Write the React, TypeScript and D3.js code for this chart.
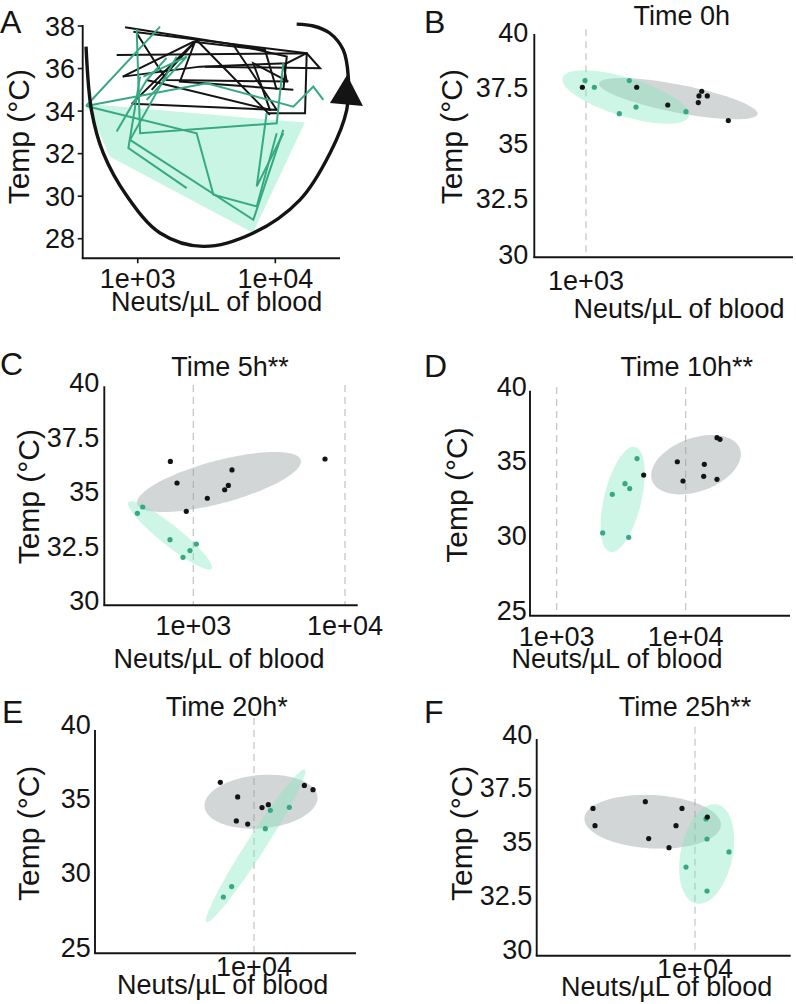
import React from 'react';
import * as d3 from 'd3';

type Pt = [number, number];
type Ell = { cx: number; cy: number; ax: number; ay: number; bx: number; by: number };

// ---------- data (neutrophils / µL, temperature °C) ----------
const xTickLabelsA = ['1e+03', '1e+04'];
const xTickValuesA = [1e3, 1e4];
const yTicksA = [28, 30, 32, 34, 36, 38];
const yTicksFine = [30, 32.5, 35, 37.5, 40];
const yTicksCoarse = [25, 30, 35, 40];

// Panel A trajectories
const darkTrajectories: Pt[][] = [
  [[809, 37.94], [5236, 37.11], [12106, 36.56], [11429, 35.0]],
  [[929, 37.73], [16904, 36.72], [21135, 36.01], [3083, 36.09]],
  [[703, 36.64], [16904, 36.72], [16444, 33.9], [8650, 33.9]],
  [[778, 35.62], [2535, 37.26], [8414, 36.87], [10233, 35.0]],
  [[904, 34.34], [2679, 37.34], [9141, 33.82]],
  [[1262, 35.0], [2606, 37.26], [2028, 35.39], [13521, 35.0]],
  [[982, 37.66], [1622, 35.46], [12106, 35.39], [11429, 36.25]],
  [[1161, 35.46], [9141, 34.06], [6918, 36.25], [12445, 35.39]],
  [[904, 34.34], [10233, 34.06], [4955, 37.11], [8414, 36.87]],
  [[778, 35.62], [2838, 36.09], [12106, 36.25], [16904, 36.72]],
];
const tealTrajectories: Pt[][] = [
  [[421, 34.24], [1452, 37.97]],
  [[421, 34.24], [3170, 35.31], [13521, 34.21], [18880, 35.15], [22336, 34.53]],
  [[982, 37.86], [1040, 32.96], [10233, 33.43], [11429, 36.25]],
  [[421, 34.24], [2679, 32.96], [3548, 30.07], [7328, 29.52], [10233, 32.96]],
  [[1040, 35.62], [855, 32.26], [2270, 30.38]],
  [[1919, 36.56], [879, 32.65], [6918, 28.89], [11429, 33.12]],
  [[8650, 33.9], [7328, 30.46], [11429, 32.96]],
  [[1099, 35.62], [2270, 36.56], [1161, 34.53]],
  [[703, 33.04], [1161, 35.46], [1622, 36.5]],
];
const tealHull: Pt[] = [[422, 34.34], [16400, 33.46], [6870, 28.28], [630, 31.85]];
const loopArrow: Pt[] = [
  [421, 37.03], [462, 34.01], [562, 32.02], [832, 30.02], [1452, 28.27], [2992, 27.64],
  [6918, 28.27], [15101, 29.83], [24946, 32.02], [33037, 34.06], [33884, 35.62],
  [31189, 36.87], [24946, 37.66], [18880, 38.0], [14289, 38.09],
];
const arrowHead: Pt[] = [[24946, 34.385], [43351, 34.244], [33189, 35.7]];

// Panel B: time 0h
const darkB: Pt[] = [[967, 37.65], [1595, 37.65], [2123, 36.85], [2813, 36.96], [2831, 37.26], [2903, 37.47], [3056, 37.26], [3709, 36.15]];
const tealB: Pt[] = [[991, 37.95], [1080, 37.65], [1490, 37.95], [1359, 36.46], [1585, 36.76], [2512, 36.55]];
const ellDarkB: Ell = { cx: 2340, cy: 37.136, ax: 0.3168, ay: -0.693, bx: -0.0107, by: -0.618 };
const ellTealB: Ell = { cx: 1441, cy: 37.211, ax: 0.2524, ay: -0.868, bx: -0.0226, by: -0.83 };

// Panel C: time 5h
const darkC: Pt[] = [[706, 36.6], [781, 35.61], [899, 34.31], [1237, 34.91], [1610, 35.3], [1702, 35.5], [1799, 36.21], [7382, 36.71]];
const tealC: Pt[] = [[428, 34.22], [464, 34.51], [702, 33.01], [855, 32.2], [951, 32.51], [1047, 32.81]];
const ellDarkC: Ell = { cx: 1477, cy: 35.656, ax: 0.539, ay: 1.005, bx: 0.0363, by: -0.944 };
const ellTealC: Ell = { cx: 702, cy: 33.21, ax: 0.274, ay: -1.528, bx: -0.0412, by: -0.358 };

// Panel D: time 10h
const darkD: Pt[] = [[4723, 34.42], [8611, 35.31], [9530, 34.02], [13946, 35.14], [13784, 34.33], [17480, 34.13], [17480, 36.92], [18447, 36.81]];
const tealD: Pt[] = [[2272, 30.54], [2699, 33.13], [3384, 33.84], [3679, 33.51], [4193, 35.52], [3614, 30.25]];
const ellDarkD: Ell = { cx: 12020, cy: 35.11, ax: 0.34, ay: 1.069, bx: 0.0707, by: -1.678 };
const ellTealD: Ell = { cx: 3247, cy: 32.79, ax: 0.097, ay: 3.518, bx: 0.1408, by: -0.29 };

// Panel E: time 20h
const darkE: Pt[] = [[6786, 36.54], [8286, 35.55], [8159, 33.93], [9298, 33.72], [10965, 34.83], [11795, 35.03], [17852, 36.33], [19724, 36.04]];
const tealE: Pt[] = [[12068, 34.65], [15019, 34.85], [11394, 33.41], [7733, 29.5], [7026, 28.8]];
const ellDarkE: Ell = { cx: 10839, cy: 35.23, ax: 0.2823, ay: 0.3333, bx: 0.01165, by: -1.793 };
const ellTealE: Ell = { cx: 10193, cy: 32.26, ax: 0.2456, ay: 5.143, bx: 0.0392, by: -0.341 };

// Panel F: time 25h
const darkF: Pt[] = [[3090, 36.83], [3162, 36.03], [5645, 37.14], [5867, 35.43], [7413, 35.01], [8035, 36.03], [8610, 36.83], [11525, 36.43]];
const tealF: Pt[] = [[11350, 36.34], [11482, 35.41], [14791, 34.81], [9016, 34.11], [11482, 33.0]];
const ellDarkF: Ell = { cx: 6143, cy: 36.21, ax: 0.3412, ay: -0.166, bx: -0.00697, by: -1.235 };
const ellTealF: Ell = { cx: 11437, cy: 34.715, ax: 0.0527, ay: 2.298, bx: 0.127, by: -0.251 };

// ---------- styles ----------
const FONT = "'Liberation Sans', Arial, Helvetica, sans-serif";
const INK = '#141414';
const TEAL = '#36a982';
const TEAL_FILL = '#7de8be';
const GRAY_FILL = '#8f9999';
const FS = 27;

type Layout = {
  letter: string; letterX: number; letterY: number;
  title: string; titleX: number; titleY: number;
  xRange: [number, number]; xLog: [number, number];
  yRange: [number, number]; yDomain: [number, number];
  yTicks: number[]; yLabelRight: number; yLabelShift: number;
  xTicks: number[]; xTickLabels: string[]; xLabelY: number;
  dashTop: number;
  xTitleX: number; xTitleY: number; yTitleX: number; yTitleY: number;
};

function Texts({ L }: { L: Layout }) {
  return (
    <g fontFamily={FONT} fill={INK}>
      <text x={L.letterX} y={L.letterY} fontSize={32}>{L.letter}</text>
      {L.title && <text x={L.titleX} y={L.titleY + 9.5} fontSize={FS} textAnchor="middle">{L.title}</text>}
      <text x={L.xTitleX} y={L.xTitleY + 8} fontSize={FS} textAnchor="middle">Neuts/µL of blood</text>
      <text transform={`translate(${L.yTitleX},${L.yTitleY}) rotate(-90)`} y={10.5} fontSize={30} textAnchor="middle">Temp (°C)</text>
    </g>
  );
}

function ellipsePath(e: Ell, xs: any, ys: any) {
  const pts: Pt[] = d3.range(0, 121).map((i) => {
    const t = (i / 120) * 2 * Math.PI;
    const lx = Math.log10(e.cx) + e.ax * Math.cos(t) + e.bx * Math.sin(t);
    const ty = e.cy + e.ay * Math.cos(t) + e.by * Math.sin(t);
    return [xs(Math.pow(10, lx)), ys(ty)];
  });
  return (d3.line()(pts) as string) + 'Z';
}

function Axes({ L, xs, ys, tickMarks }: { L: Layout; xs: any; ys: any; tickMarks?: boolean }) {
  const [x0, x1] = L.xRange;
  const [yb, yt] = L.yRange;
  return (
    <g>
      <line x1={x0} x2={x0} y1={yt - 1} y2={yb} stroke={INK} strokeWidth={1.9} />
      <line x1={x0 - 0.95} x2={x1} y1={yb} y2={yb} stroke={INK} strokeWidth={1.9} />
      {tickMarks && L.yTicks.map((t) => (
        <line key={'yt' + t} x1={x0 - 5} x2={x0} y1={ys(t)} y2={ys(t)} stroke={INK} strokeWidth={1.6} />
      ))}
      {tickMarks && L.xTicks.map((t) => (
        <line key={'xt' + t} x1={xs(t)} x2={xs(t)} y1={yb} y2={yb + 5} stroke={INK} strokeWidth={1.6} />
      ))}
      <g fontFamily={FONT} fill={INK} fontSize={FS}>
        {L.yTicks.map((t) => (
          <text key={'yl' + t} x={L.yLabelRight} y={ys(t) + L.yLabelShift + 9.5} textAnchor="end">{String(t)}</text>
        ))}
        {L.xTicks.map((t, i) => (
          <text key={'xl' + t} x={xs(t)} y={L.xLabelY + 9.5} textAnchor="middle">{L.xTickLabels[i]}</text>
        ))}
      </g>
    </g>
  );
}

function ScatterPanel({ L, dark, teal, ellDark, ellTeal }: { L: Layout; dark: Pt[]; teal: Pt[]; ellDark: Ell; ellTeal: Ell }) {
  const xs = d3.scaleLog().domain([Math.pow(10, L.xLog[0]), Math.pow(10, L.xLog[1])]).range(L.xRange);
  const ys = d3.scaleLinear().domain(L.yDomain).range(L.yRange);
  return (
    <g>
      {L.xTicks.map((t) => (
        <line key={'d' + t} x1={xs(t)} x2={xs(t)} y1={L.dashTop} y2={L.yRange[0]} stroke="#bdbdbd" strokeWidth={1.1} strokeDasharray="7,5" />
      ))}
      <path d={ellipsePath(ellDark, xs, ys)} fill={GRAY_FILL} fillOpacity={0.4} />
      <path d={ellipsePath(ellTeal, xs, ys)} fill={TEAL_FILL} fillOpacity={0.38} />
      {teal.map((p, i) => <circle key={'t' + i} cx={xs(p[0])} cy={ys(p[1])} r={2.6} fill={TEAL} />)}
      {dark.map((p, i) => <circle key={'k' + i} cx={xs(p[0])} cy={ys(p[1])} r={2.6} fill={INK} />)}
      <Axes L={L} xs={xs} ys={ys} />
      <Texts L={L} />
    </g>
  );
}

function PanelA({ L }: { L: Layout }) {
  const xs = d3.scaleLog().domain([Math.pow(10, L.xLog[0]), Math.pow(10, L.xLog[1])]).range(L.xRange);
  const ys = d3.scaleLinear().domain(L.yDomain).range(L.yRange);
  const line = d3.line<Pt>().x((d) => xs(d[0])).y((d) => ys(d[1]));
  const smooth = d3.line<Pt>().x((d) => xs(d[0])).y((d) => ys(d[1])).curve(d3.curveCatmullRom.alpha(0.5));
  return (
    <g>
      <path d={line(tealHull) + 'Z'} fill={TEAL_FILL} fillOpacity={0.42} />
      {darkTrajectories.map((tr, i) => (
        <path key={'k' + i} d={line(tr) as string} fill="none" stroke={INK} strokeWidth={2} />
      ))}
      {tealTrajectories.map((tr, i) => (
        <path key={'t' + i} d={line(tr) as string} fill="none" stroke={TEAL} strokeWidth={2} />
      ))}
      <path d={smooth(loopArrow) as string} fill="none" stroke={INK} strokeWidth={3.4} />
      <path d={line(arrowHead) + 'Z'} fill={INK} />
      <Axes L={L} xs={xs} ys={ys} tickMarks />
      <Texts L={L} />
    </g>
  );
}

const layoutA: Layout = {
  letter: 'A', letterX: 0, letterY: 33, title: '', titleX: 0, titleY: 0,
  xRange: [82.7, 340], xLog: [2.6, 4.47], yRange: [258.3, 26], yDomain: [27.08, 38],
  yTicks: yTicksA, yLabelRight: 75, yLabelShift: 0,
  xTicks: xTickValuesA, xTickLabels: xTickLabelsA, xLabelY: 278.3, dashTop: 0,
  xTitleX: 216.7, xTitleY: 303, yTitleX: 18.3, yTitleY: 136.7,
};
const layoutB: Layout = {
  letter: 'B', letterX: 424, letterY: 33, title: 'Time 0h', titleX: 681.7, titleY: 15,
  xRange: [534.3, 793], xLog: [2.7932, 3.828], yRange: [257.3, 35], yDomain: [30, 40],
  yTicks: yTicksFine, yLabelRight: 528.3, yLabelShift: -3,
  xTicks: [1e3], xTickLabels: ['1e+03'], xLabelY: 280, dashTop: 29.3,
  xTitleX: 679, xTitleY: 310, yTitleX: 451.7, yTitleY: 136.7,
};
const layoutC: Layout = {
  letter: 'C', letterX: 0, letterY: 375, title: 'Time 5h**', titleX: 230, titleY: 366.7,
  xRange: [104.3, 357.7], xLog: [2.4133, 4.0837], yRange: [605.3, 387.3], yDomain: [30, 40],
  yTicks: yTicksFine, yLabelRight: 99.3, yLabelShift: -4.5,
  xTicks: [1e3, 1e4], xTickLabels: ['1e+03', '1e+04'], xLabelY: 625, dashTop: 385,
  xTitleX: 219, xTitleY: 660, yTitleX: 28.3, yTitleY: 496.7,
};
const layoutD: Layout = {
  letter: 'D', letterX: 424, letterY: 377, title: 'Time 10h**', titleX: 686.7, titleY: 366.7,
  xRange: [530, 790], xLog: [2.793, 4.8085], yRange: [615.7, 391.7], yDomain: [25, 40],
  yTicks: yTicksCoarse, yLabelRight: 526.7, yLabelShift: -5.5,
  xTicks: [1e3, 1e4], xTickLabels: ['1e+03', '1e+04'], xLabelY: 636.7, dashTop: 387,
  xTitleX: 617, xTitleY: 660, yTitleX: 456.7, yTitleY: 495,
};
const layoutE: Layout = {
  letter: 'E', letterX: 2, letterY: 723, title: 'Time 20h*', titleX: 226.7, titleY: 706.7,
  xRange: [95, 356], xLog: [3.205, 4.51], yRange: [953.3, 731], yDomain: [25, 40],
  yTicks: yTicksCoarse, yLabelRight: 90.7, yLabelShift: -6.3,
  xTicks: [1e4], xTickLabels: ['1e+04'], xLabelY: 966.7, dashTop: 718,
  xTitleX: 222.7, xTitleY: 986, yTitleX: 28.3, yTitleY: 833.3,
};
const layoutF: Layout = {
  letter: 'F', letterX: 424, letterY: 723, title: 'Time 25h**', titleX: 685, titleY: 706.7,
  xRange: [536.7, 790.7], xLog: [3.2085, 4.4785], yRange: [955.7, 740], yDomain: [30, 40],
  yTicks: yTicksFine, yLabelRight: 532.3, yLabelShift: -6,
  xTicks: [1e4], xTickLabels: ['1e+04'], xLabelY: 968.3, dashTop: 726.7,
  xTitleX: 666.7, xTitleY: 988, yTitleX: 461.7, yTitleY: 833.3,
};

export default function App() {
  return (
    <svg width={796} height={1004} viewBox="0 0 796 1004"
      style={{ position: 'absolute', left: 0, top: 0, display: 'block', background: '#fff' }}>
      <rect width={796} height={1004} fill="#fff" />
      <PanelA L={layoutA} />
      <ScatterPanel L={layoutB} dark={darkB} teal={tealB} ellDark={ellDarkB} ellTeal={ellTealB} />
      <ScatterPanel L={layoutC} dark={darkC} teal={tealC} ellDark={ellDarkC} ellTeal={ellTealC} />
      <ScatterPanel L={layoutD} dark={darkD} teal={tealD} ellDark={ellDarkD} ellTeal={ellTealD} />
      <ScatterPanel L={layoutE} dark={darkE} teal={tealE} ellDark={ellDarkE} ellTeal={ellTealE} />
      <ScatterPanel L={layoutF} dark={darkF} teal={tealF} ellDark={ellDarkF} ellTeal={ellTealF} />
    </svg>
  );
}
